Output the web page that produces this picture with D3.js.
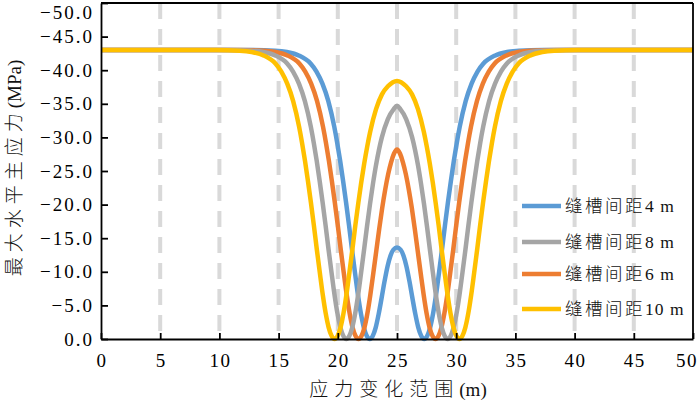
<!DOCTYPE html>
<html><head><meta charset="utf-8">
<script src="https://cdn.jsdelivr.net/npm/d3@7"></script>
<style>
html,body{margin:0;padding:0;background:#fff;}
svg{display:block;}
</style></head>
<body>
<svg id="chart" width="700" height="403"></svg>
<script>
// ---- data ----
const seriesNames = ["缝槽间距4 m", "缝槽间距8 m", "缝槽间距6 m", "缝槽间距10 m"];
const seriesColors = ["#5b9bd5", "#a5a5a5", "#ed7d31", "#ffc000"];

const x4m = [0,12.7,14.7,15.7,16.7,17.7,18.2,18.7,19.2,19.7,19.95,20.2,20.45,20.7,20.95,21.2,21.45,21.7,21.95,22.2,22.45,22.7,22.95,23.2,23.45,23.7,23.95,24.2,24.45,24.7,25,25.3,25.55,25.8,26.05,26.3,26.55,26.8,27.05,27.3,27.55,27.8,28.05,28.3,28.55,28.8,29.05,29.3,29.55,29.8,30.05,30.3,30.8,31.3,31.8,32.3,33.3,34.3,35.3,37.3,50];
const y4m = [43,43,42.9,42.7,42.2,41.0,39.8,38.0,35.4,31.6,29.2,26.5,23.5,20.3,16.9,13.3,9.9,6.6,3.8,1.7,0.45,0,0.45,1.7,3.7,6.1,8.6,10.8,12.4,13.3,13.6,13.3,12.4,10.8,8.6,6.1,3.7,1.7,0.45,0,0.45,1.7,3.8,6.6,9.9,13.3,16.9,20.3,23.5,26.5,29.2,31.6,35.4,38.0,39.8,41.0,42.2,42.7,42.9,43,43];

const x6m = [0,11.75,13.75,14.75,15.75,16.75,17.25,17.75,18.25,18.75,19.0,19.25,19.5,19.75,20.0,20.25,20.5,20.75,21.0,21.25,21.5,21.75,22.0,22.25,22.5,22.75,23.0,23.25,23.5,23.75,24.0,24.25,24.5,24.75,25.0,25.25,25.5,25.75,26.0,26.25,26.5,26.75,27.0,27.25,27.5,27.75,28.0,28.25,28.5,28.75,29.0,29.25,29.5,29.75,30.0,30.25,30.5,30.75,31.0,31.25,31.75,32.25,32.75,33.25,34.25,35.25,36.25,38.25,50];
const y6m = [43,43,42.9,42.7,42.2,41.0,39.8,38.0,35.4,31.6,29.2,26.5,23.5,20.3,16.9,13.3,9.9,6.6,3.8,1.7,0.45,0,0.45,1.7,3.8,6.6,9.8,13.1,16.4,19.5,22.2,24.5,26.3,27.6,28.2,27.6,26.3,24.5,22.2,19.5,16.4,13.1,9.8,6.6,3.8,1.7,0.45,0,0.45,1.7,3.8,6.6,9.9,13.3,16.9,20.3,23.5,26.5,29.2,31.6,35.4,38.0,39.8,41.0,42.2,42.7,42.9,43,43];

const x8m = [0,10.72,12.72,13.72,14.72,15.72,16.22,16.72,17.22,17.72,17.97,18.22,18.47,18.72,18.97,19.22,19.47,19.72,19.97,20.22,20.47,20.72,20.97,21.22,21.47,21.72,21.97,22.22,22.47,22.72,22.97,23.22,23.47,23.72,24.22,24.72,25.0,25.28,25.78,26.28,26.53,26.78,27.03,27.28,27.53,27.78,28.03,28.28,28.53,28.78,29.03,29.28,29.53,29.78,30.03,30.28,30.53,30.78,31.03,31.28,31.53,31.78,32.03,32.28,32.78,33.28,33.78,34.28,35.28,36.28,37.28,39.28,50];
const y8m = [43,43,42.9,42.7,42.2,41.0,39.8,38.0,35.4,31.6,29.2,26.5,23.5,20.3,16.9,13.3,9.9,6.6,3.8,1.7,0.45,0,0.45,1.7,3.8,6.6,9.9,13.3,16.8,20.1,23.1,25.8,28.1,30.0,32.7,34.2,34.7,34.2,32.7,30.0,28.1,25.8,23.1,20.1,16.8,13.3,9.9,6.6,3.8,1.7,0.45,0,0.45,1.7,3.8,6.6,9.9,13.3,16.9,20.3,23.5,26.5,29.2,31.6,35.4,38.0,39.8,41.0,42.2,42.7,42.9,43,43];

const x10m = [0,9.73,11.73,12.73,13.73,14.73,15.23,15.73,16.23,16.73,16.98,17.23,17.48,17.73,17.98,18.23,18.48,18.73,18.98,19.23,19.48,19.73,19.98,20.23,20.48,20.73,20.98,21.23,21.48,21.73,21.98,22.23,22.48,22.73,23.23,23.73,24.23,25.0,25.77,26.27,26.77,27.27,27.52,27.77,28.02,28.27,28.52,28.77,29.02,29.27,29.52,29.77,30.02,30.27,30.52,30.77,31.02,31.27,31.52,31.77,32.02,32.27,32.52,32.77,33.02,33.27,33.77,34.27,34.77,35.27,36.27,37.27,38.27,40.27,50];
const y10m = [43,43,42.9,42.7,42.2,41.0,39.8,38.0,35.4,31.6,29.2,26.5,23.5,20.3,16.9,13.3,9.9,6.6,3.8,1.7,0.45,0,0.45,1.7,3.8,6.6,9.9,13.3,16.9,20.2,23.3,26.1,28.6,30.8,34.2,36.4,37.6,38.4,37.6,36.4,34.2,30.8,28.6,26.1,23.3,20.2,16.9,13.3,9.9,6.6,3.8,1.7,0.45,0,0.45,1.7,3.8,6.6,9.9,13.3,16.9,20.3,23.5,26.5,29.2,31.6,35.4,38.0,39.8,41.0,42.2,42.7,42.9,43,43];

const xTicks = [0,5,10,15,20,25,30,35,40,45,50];
const yTicks = [0,5,10,15,20,25,30,35,40,45,50];
const gridX = [5,10,15,20,25,30,35,40,45];
const xTitle = "应力变化范围";
const yTitle = "最大水平主应力";

// ---- drawing ----
const svg = d3.select("#chart");
const L = 101, R = 693, T = 3, B = 339;
const x = d3.scaleLinear().domain([0, 50]).range([L, R]);
const y = d3.scaleLinear().domain([0, 50]).range([B, T]);
const serif = "'Liberation Serif','Times New Roman','Noto Sans CJK SC',serif";

// dashed vertical guides
svg.append("g").selectAll("line").data(gridX).join("line")
  .attr("x1", d => x(d)).attr("x2", d => x(d))
  .attr("y1", T).attr("y2", B)
  .attr("stroke", "#d9d9d9").attr("stroke-width", 4)
  .attr("stroke-dasharray", "16,10");

// curves
const seriesX = [x4m, x8m, x6m, x10m];
const seriesY = [y4m, y8m, y6m, y10m];
const line = d3.line().x(d => x(d[0])).y(d => y(d[1])).curve(d3.curveMonotoneX);
const drawOrder = [0, 2, 1, 3];
drawOrder.forEach(i => {
  const pts = seriesX[i].map((v, k) => [v, seriesY[i][k]]);
  svg.append("path").datum(pts).attr("d", line)
    .attr("fill", "none").attr("stroke", seriesColors[i])
    .attr("stroke-width", 4.5).attr("stroke-linejoin", "round");
});

// axes (ticks inward)
const axB = svg.append("g").attr("transform", `translate(0,${B})`)
  .call(d3.axisBottom(x).tickValues(xTicks).tickSizeInner(-6).tickSizeOuter(0).tickFormat(""));
const axL = svg.append("g").attr("transform", `translate(${L},0)`)
  .call(d3.axisLeft(y).tickValues(yTicks).tickSizeInner(-7).tickSizeOuter(0).tickFormat(""));
[axB, axL].forEach(g => {
  g.selectAll("path,line").attr("stroke", "#000").attr("stroke-width", 1.8);
});
// frame top/right
svg.append("line").attr("x1", L).attr("x2", R).attr("y1", T).attr("y2", T).attr("stroke", "#000").attr("stroke-width", 1.8);
svg.append("line").attr("x1", R).attr("x2", R).attr("y1", T).attr("y2", B).attr("stroke", "#000").attr("stroke-width", 1.8);

// tick labels
svg.append("g").selectAll("text").data(xTicks).join("text")
  .attr("x", d => Math.min(x(d) + 1, 687)).attr("y", 367)
  .attr("text-anchor", "middle")
  .attr("font-family", serif).attr("font-size", 19).attr("letter-spacing", "1.5px")
  .attr("fill", "#000").text(d => d);
svg.append("g").selectAll("text").data(yTicks).join("text")
  .attr("x", 94).attr("y", d => Math.max(y(d), 12))
  .attr("dy", "0.35em")
  .attr("text-anchor", "end")
  .attr("font-family", serif).attr("font-size", 19).attr("letter-spacing", "2px")
  .attr("fill", "#000").text(d => d === 0 ? "0.0" : "\u2212" + d.toFixed(1));

// axis titles
const xt = svg.append("text").attr("x", 398).attr("y", 396).attr("text-anchor", "middle")
  .attr("font-family", serif).attr("font-size", 19).attr("fill", "#111");
xt.append("tspan").attr("letter-spacing", "6px").attr("font-family", "'Noto Sans CJK SC',sans-serif").attr("font-weight", 300).text(xTitle);
xt.append("tspan").text("(m)");

const yt = svg.append("text").attr("transform", "translate(21,168) rotate(-90)").attr("text-anchor", "middle")
  .attr("font-family", serif).attr("font-size", 19).attr("fill", "#111");
yt.append("tspan").attr("letter-spacing", "5px").attr("font-family", "'Noto Sans CJK SC',sans-serif").attr("font-weight", 300).text(yTitle);
yt.append("tspan").text("(MPa)");

// legend
const legY = [206, 242, 274, 309];
seriesNames.forEach((name, i) => {
  svg.append("line").attr("x1", 522).attr("x2", 561).attr("y1", legY[i]).attr("y2", legY[i])
    .attr("stroke", seriesColors[i]).attr("stroke-width", 4.5);
  const m = name.match(/^(\D+)(.*)$/);
  const t = svg.append("text").attr("x", 565).attr("y", legY[i]).attr("dy", "0.36em")
    .attr("font-family", serif).attr("font-size", 17.5).attr("fill", "#111");
  t.append("tspan").attr("font-family", "'Noto Sans CJK SC',sans-serif").attr("font-weight", 300)
    .attr("letter-spacing", "2.5px").text(m[1]);
  t.append("tspan").attr("letter-spacing", "1px").text(m[2]);
});
</script>
</body></html>
